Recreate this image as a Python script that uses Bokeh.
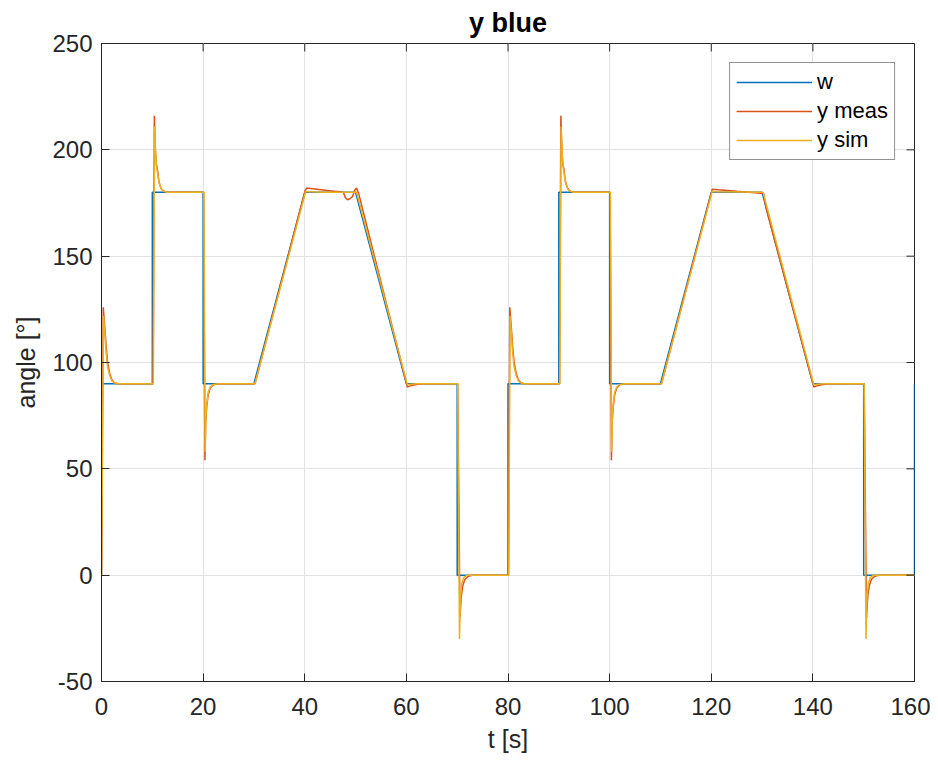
import math
from bokeh.plotting import figure
from bokeh.models import Legend, LegendItem, FixedTicker
from bokeh.embed import file_html
from bokeh.resources import INLINE

# ---- data ----
x_lim = (0, 160)
y_lim = (-50, 250)
x_ticks = [0, 20, 40, 60, 80, 100, 120, 140, 160]
y_ticks = [-50, 0, 50, 100, 150, 200, 250]

w_t = [0, 0, 10, 10, 20, 20, 30, 40, 50, 60, 70, 70, 80, 80, 90, 90, 100, 100,
       110, 120, 130, 140, 150, 150, 160, 160]
w_y = [0, 90, 90, 180, 180, 90, 90, 180, 180, 90, 90, 0, 0, 90, 90, 180, 180, 90,
       90, 180, 180, 90, 90, 0, 0, 90]

meas_t = [0, 0.35, 0.6, 0.9, 1.2, 1.6, 2.0, 2.5, 3.2,
          10.15, 10.4, 10.6, 10.8, 11.0, 11.3, 11.7, 12.2, 13.0,
          20.1, 20.35, 20.5, 20.7, 21.0, 21.4, 22.0, 23.0,
          30.2, 40.1, 40.4, 44.0, 47.6, 48.0, 48.4, 48.9, 49.4, 49.8, 50.2, 50.6,
          60.2, 60.8, 62.0, 63.0,
          70.1, 70.55, 70.8, 71.1, 71.5, 72.2, 73.0,
          80.1, 80.35, 80.6, 80.9, 81.2, 81.6, 82.0, 82.5, 83.2,
          90.15, 90.4, 90.6, 90.8, 91.0, 91.3, 91.7, 92.2, 93.0,
          100.1, 100.35, 100.5, 100.7, 101.0, 101.4, 102.0, 103.0,
          110.2, 120.2, 125.0, 130.3, 130.8,
          140.2, 140.8, 142.0, 143.0,
          150.1, 150.55, 150.8, 151.1, 151.5, 152.2, 153.0, 160.0]
meas_y = [0, 126, 118, 108, 100, 95, 92, 90.5, 90,
          90, 216, 200, 193, 191, 185, 182, 180.5, 180,
          180, 54, 72, 79, 85, 88, 89.5, 90,
          90, 181, 182, 181, 180, 177.5, 176.5, 177, 178, 181, 182, 179.5,
          88.5, 89, 89.7, 90,
          90, -20, -10, -5, -2, -0.5, 0,
          0, 126, 118, 108, 100, 95, 92, 90.5, 90,
          90, 216, 200, 193, 191, 185, 182, 180.5, 180,
          180, 54, 72, 79, 85, 88, 89.5, 90,
          90, 181.5, 180.5, 179.5, 172.5,
          88.5, 89, 89.7, 90,
          90, -20, -10, -5, -2, -0.5, 0, 0]

sim_t = [0, 0.4, 0.65, 0.9, 1.2, 1.6, 2.0, 2.5, 3.2,
         10.2, 10.45, 10.65, 10.85, 11.1, 11.4, 11.8, 12.3, 13.0,
         20.15, 20.4, 20.55, 20.75, 21.0, 21.4, 22.0, 23.0,
         30.2, 40.2, 40.5, 44.0, 50.2,
         60.2, 60.8, 62.0,
         70.1, 70.45, 70.65, 70.9, 71.3, 72.0,
         80.15, 80.4, 80.65, 80.9, 81.2, 81.6, 82.0, 82.5, 83.2,
         90.2, 90.45, 90.65, 90.85, 91.1, 91.4, 91.8, 92.3, 93.0,
         100.15, 100.4, 100.55, 100.75, 101.0, 101.4, 102.0, 103.0,
         110.2, 120.2, 120.5, 130.2,
         140.2, 140.8, 142.0,
         150.1, 150.45, 150.65, 150.9, 151.3, 152.0, 160.0]
sim_y = [0, 122, 114, 105, 98, 94, 91.5, 90.5, 90,
         90, 211, 198, 192, 188, 184, 181.5, 180.5, 180,
         180, 58, 74, 81, 86, 88.5, 89.7, 90,
         90, 180.5, 180.3, 180, 180,
         89.5, 89.8, 90,
         90, -30, -10, -4, -1, 0,
         0, 122, 114, 105, 98, 94, 91.5, 90.5, 90,
         90, 211, 198, 192, 188, 184, 181.5, 180.5, 180,
         180, 58, 74, 81, 86, 88.5, 89.7, 90,
         90, 180.5, 180.3, 180,
         89.5, 89.8, 90,
         90, -30, -10, -4, -1, 0, 0]

FONT = "Liberation Sans"
DARK = "#262626"

p = figure(width=930, height=758, x_range=x_lim, y_range=y_lim,
           output_backend="svg", toolbar_location=None,
           x_axis_label="t [s]", y_axis_label="angle [°]",
           min_border_left=101, min_border_right=16, min_border_top=42,
           min_border_bottom=77)
p.outline_line_color = DARK
p.outline_line_width = 1
p.background_fill_color = "white"

p.title.text = "y blue"
p.title.align = "center"
p.title.text_font = FONT
p.title.text_font_size = "27px"
p.title.text_font_style = "bold"
p.title.text_color = "black"
p.title.standoff = 11

p.xgrid.ticker = FixedTicker(ticks=x_ticks)
p.ygrid.ticker = FixedTicker(ticks=y_ticks)
p.grid.grid_line_color = "#e2e2e2"
p.grid.grid_line_width = 1

r_w = p.line(w_t, w_y, line_color="#0072BD", line_width=1.5)
r_m = p.line(meas_t, meas_y, line_color="#D95319", line_width=1.5)
r_s = p.line(sim_t, sim_y, line_color="#EDB120", line_width=1.5)

# inward ticks on the top and right frame edges (MATLAB box style)
p.ray(x=x_ticks, y=[y_lim[1]] * len(x_ticks), length=8, length_units="screen",
      angle=-math.pi / 2, line_color=DARK, line_width=1)
p.ray(x=[x_lim[1]] * len(y_ticks), y=y_ticks, length=8, length_units="screen",
      angle=math.pi, line_color=DARK, line_width=1)

for ax, ticks in ((p.xaxis[0], x_ticks), (p.yaxis[0], y_ticks)):
    ax.ticker = FixedTicker(ticks=ticks)
    ax.axis_line_color = DARK
    ax.axis_line_width = 1
    ax.major_tick_line_color = DARK
    ax.major_tick_in = 8
    ax.major_tick_out = 0
    ax.minor_tick_line_color = None
    ax.major_label_text_font = FONT
    ax.major_label_text_font_size = "24px"
    ax.major_label_text_color = DARK
    ax.axis_label_text_font = FONT
    ax.axis_label_text_font_size = "25px"
    ax.axis_label_text_color = DARK
    ax.axis_label_text_font_style = "normal"

p.yaxis[0].major_label_overrides = {-50: "-50"}
p.xaxis[0].major_label_standoff = 16
p.xaxis[0].axis_label_standoff = 7
p.yaxis[0].major_label_standoff = 9
p.yaxis[0].axis_label_standoff = 9

legend = Legend(items=[LegendItem(label="w", renderers=[r_w]),
                       LegendItem(label="y meas", renderers=[r_m]),
                       LegendItem(label="y sim", renderers=[r_s])],
                location="top_right")
legend.margin = 19
legend.padding = 6
legend.spacing = 3
legend.glyph_width = 76
legend.glyph_height = 22
legend.label_height = 22
legend.label_standoff = 5
legend.label_text_font = FONT
legend.label_text_font_size = "22px"
legend.label_text_color = "black"
legend.border_line_color = DARK
legend.border_line_width = 1
legend.background_fill_color = "white"
legend.background_fill_alpha = 1
p.add_layout(legend)

open("out.html", "w").write(file_html(p, INLINE))
